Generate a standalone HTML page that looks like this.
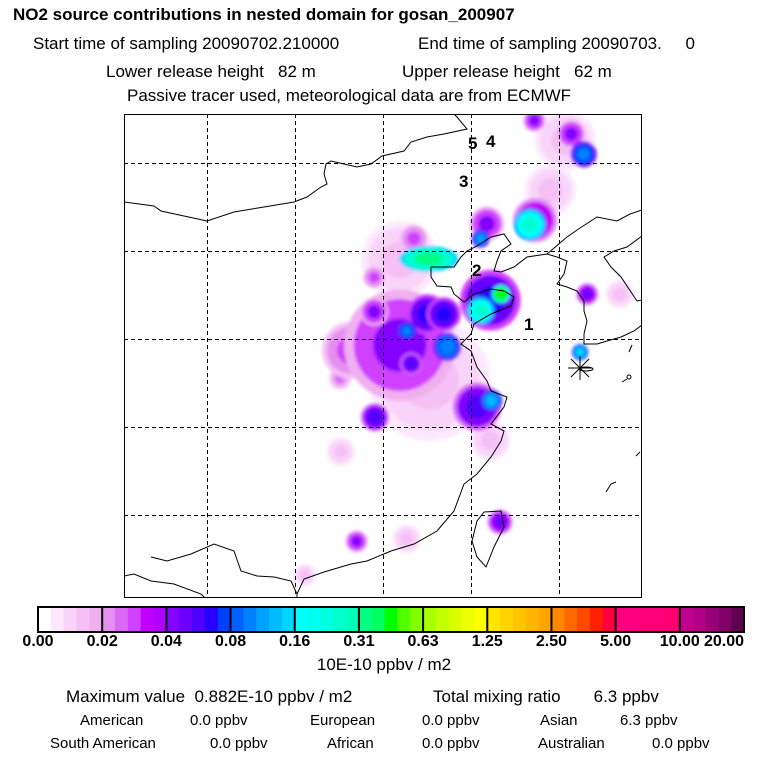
<!DOCTYPE html>
<html><head><meta charset="utf-8"><style>
body{margin:0;background:#fff;width:768px;height:768px;overflow:hidden;font-family:"Liberation Sans",sans-serif}
svg{position:absolute;left:0;top:0}
text{white-space:pre}
</style></head><body>
<svg width="768" height="768" xml:space="preserve">
<defs><filter id="bl" x="-50%" y="-50%" width="200%" height="200%"><feGaussianBlur stdDeviation="1.6"/></filter>
<clipPath id="mc"><rect x="124" y="114" width="518" height="484"/></clipPath></defs>
<g font-size="17" fill="#000">
<text x="13" y="20" font-weight="bold">NO2 source contributions in nested domain for gosan_200907</text>
<text x="33" y="49">Start time of sampling 20090702.210000</text>
<text x="418" y="49">End time of sampling 20090703.     0</text>
<text x="106" y="77">Lower release height   82 m</text>
<text x="402" y="77">Upper release height   62 m</text>
<text x="127" y="101">Passive tracer used, meteorological data are from ECMWF</text>
</g>
<g id="map" clip-path="url(#mc)">
<g id="blobs" filter="url(#bl)"></g>
<g id="grid"></g>
<g fill="none" stroke="#000" stroke-width="1">
<polyline points="297,598 297,594 304,579 324,572 351,564 367,561 391,551 414,544 437,531 454,511 464,484 477,474 491,457 501,441 504,431 491,424 504,407 507,397 491,391 487,381 477,367 471,351 461,344 471,334 474,324 491,314 511,306 514,297 504,291 491,289 474,294 464,302 454,294 451,287 437,286 431,277 431,267 454,267 461,257 467,251 477,246 491,237 504,234 511,244 501,251 497,261 494,271 501,272 514,267 527,257 547,254 557,257 567,261 564,274 557,284 567,287 577,291 584,301 584,311 587,321 584,334 584,344 597,344 607,341 621,337 634,331 642,325"/>
<polyline points="642,300 637,301 621,277 611,267 604,257 614,251 627,247 642,236"/>
<polyline points="547,254 567,237 580,228 597,217 617,221 630,214 642,210"/>
<polyline points="124,202 154,206 161,211 184,216 207,221 234,212 264,207 294,202 307,197 321,187 327,184 324,174 326,164 331,161 357,167 371,164 382,156 404,151 411,142 427,137 444,134 467,129 457,117 454,114"/>
<polyline points="124,576 134,574 151,581 174,584 201,594 205,598"/>
<polyline points="151,557 167,561 191,554 214,544 234,551 241,571 257,576 274,577 291,581 297,594"/>
<polyline points="484,512 501,511 504,527 494,547 486,567 477,557 472,541 477,521 484,512"/>
<ellipse cx="586" cy="369" rx="7" ry="2"/>
<polyline points="629,352 632,345"/><polyline points="622,382 627,379"/><ellipse cx="629" cy="377" rx="2" ry="2"/>
<polyline points="636,456 640,452"/><polyline points="606,492 611,484 616,482"/>
</g>
<g font-size="17" font-weight="bold">
<text x="468" y="149">5</text><text x="486" y="147">4</text><text x="459" y="187">3</text><text x="472" y="276">2</text><text x="524" y="330">1</text>
</g>
<g stroke="#000" stroke-width="1">
<line x1="568" y1="368" x2="592" y2="368"/><line x1="580" y1="356" x2="580" y2="380"/><line x1="571" y1="359" x2="589" y2="377"/><line x1="589" y1="359" x2="571" y2="377"/>
</g>
</g>
<rect x="124.5" y="114.5" width="517" height="483" fill="none" stroke="#000"/>
<g id="cbar"></g>
<text x="384" y="670" font-size="17" text-anchor="middle">10E-10 ppbv / m2</text>
<g font-size="17">
<text x="66" y="702">Maximum value  0.882E-10 ppbv / m2</text>
<text x="433" y="702">Total mixing ratio       6.3 ppbv</text>
</g>
<g font-size="15">
<text x="80" y="725">American</text><text x="190" y="725">0.0 ppbv</text>
<text x="310" y="725">European</text><text x="422" y="725">0.0 ppbv</text>
<text x="540" y="725">Asian</text><text x="620" y="725">6.3 ppbv</text>
<text x="50" y="748">South American</text><text x="210" y="748">0.0 ppbv</text>
<text x="327" y="748">African</text><text x="422" y="748">0.0 ppbv</text>
<text x="538" y="748">Australian</text><text x="652" y="748">0.0 ppbv</text>
</g>
</svg>
<script>
const tickLabels=["0.00","0.02","0.04","0.08","0.16","0.31","0.63","1.25","2.50","5.00","10.00","20.00"];
const levels=[0,0.02,0.04,0.08,0.16,0.31,0.63,1.25,2.5,5,10,20];
const shades=[
["#ffffff","#fde8fd","#f9d4f9","#f5c0f5","#f0b0f0"],
["#e490f0","#dc68f8","#d040ff","#c000ff","#b000ff"],
["#8400ff","#6c00ff","#5000ff","#2800ff","#0040ff"],
["#0060ff","#0080ff","#00a0ff","#00bcff","#00d4ff"],
["#00ffff","#00fff0","#00ffe0","#00ffcc","#00ffb8"],
["#00ff80","#00ff60","#00ff00","#50ff00","#80ff00"],
["#a8ff00","#c4ff00","#dcff00","#eeff00","#ffff00"],
["#ffe400","#ffd400","#ffc400","#ffb400","#ffa400"],
["#ff8800","#ff6800","#ff4800","#ff2000","#ff0040"],
["#ff0080","#ff0080","#ff0078","#ff0078","#ff0070"],
["#c00090","#b00088","#980078","#800068","#600050"]];
// blob data: grid-unit x, grid-unit y (gridlines at 1..5), value (1E-10 ppbv/m2), extent in grid units
const blobU=[3.53,3.19,4.90,5.07,4.22,2.52,3.27,5.69,2.11,3.19,2.63,2.51,2.90,2.90,3.35,3.50,3.69,3.27,3.73,3.32,4.22,4.11,4.34,3.52,4.18,4.11,4.73,4.67,4.72,5.14,5.28,4.07,4.23,2.91,5.32,5.24,4.33,2.70];
const blobV=[3.47,2.10,1.31,0.74,4.15,4.28,5.27,2.49,5.68,3.07,3.13,3.45,2.30,2.69,1.86,2.72,2.72,2.91,3.09,3.28,2.56,2.68,2.49,2.09,1.69,1.86,1.65,1.70,0.52,0.67,0.90,3.77,3.70,3.89,2.49,3.15,5.08,5.30];
const blobVal=[0.012,0.012,0.013,0.012,0.012,0.015,0.015,0.012,0.015,0.04,0.03,0.025,0.03,0.04,0.03,0.065,0.07,0.1,0.11,0.06,0.07,0.25,0.5,0.35,0.04,0.12,0.045,0.25,0.04,0.04,0.1,0.06,0.13,0.06,0.05,0.15,0.05,0.04];
const blobR=[0.6,0.38,0.25,0.3,0.2,0.14,0.14,0.14,0.11,0.55,0.28,0.11,0.11,0.14,0.14,0.20,0.17,0.10,0.14,0.11,0.3,0.14,0.09,0.34,0.17,0.09,0.22,0.16,0.11,0.14,0.13,0.24,0.11,0.14,0.11,0.08,0.125,0.11];
const NS="http://www.w3.org/2000/svg";
function xS(u){return 119+u*88}
function yS(v){return 75+v*88}
function color(v){
 for(let i=0;i<levels.length-1;i++){if(v<levels[i+1]){const f=(v-levels[i])/(levels[i+1]-levels[i]);return shades[i][Math.min(4,Math.floor(f*5))];}}
 return shades[10][4];}
const bg=document.getElementById('blobs');
const order=blobVal.map((v,i)=>i).sort((a,b)=>blobVal[a]-blobVal[b]);
order.forEach(i=>{
 const rings=[[1.15,blobVal[i]*0.45],[0.95,blobVal[i]*0.75],[0.55,blobVal[i]]];
 rings.forEach(r=>{
  const e=document.createElementNS(NS,'ellipse');
  
  
  e.setAttribute('cx',xS(blobU[i]));e.setAttribute('cy',yS(blobV[i]));
  const rr=blobR[i]*88*r[0];
  const el=(i==23);
  e.setAttribute('rx',rr*(el?0.85:1));e.setAttribute('ry',rr*(el?0.38:1));
  e.setAttribute('fill',color(r[1]));bg.appendChild(e);});
});
const gg=document.getElementById('grid');
for(let k=1;k<=5;k++){
 const l=document.createElementNS(NS,'line');
 
 
 l.setAttribute('x1',xS(k)+.5);l.setAttribute('x2',xS(k)+.5);l.setAttribute('y1',114);l.setAttribute('y2',598);
 l.setAttribute('stroke','#000');l.setAttribute('stroke-dasharray','4,3');gg.appendChild(l);
 const h=document.createElementNS(NS,'line');
 
 
 h.setAttribute('y1',yS(k)+.5);h.setAttribute('y2',yS(k)+.5);h.setAttribute('x1',124);h.setAttribute('x2',642);
 h.setAttribute('stroke','#000');h.setAttribute('stroke-dasharray','4,3');gg.appendChild(h);
}
const cb=document.getElementById('cbar');
const x0=38,w=706/11,y0=607,hgt=25;
shades.forEach((s,i)=>{s.forEach((c,j)=>{
 const r=document.createElementNS(NS,'rect');
 
 
 r.setAttribute('x',x0+i*w+j*w/5);r.setAttribute('y',y0);r.setAttribute('width',w/5+0.5);r.setAttribute('height',hgt);r.setAttribute('fill',c);cb.appendChild(r);});
 const b=document.createElementNS(NS,'line');
 
 
 b.setAttribute('x1',x0+i*w);b.setAttribute('x2',x0+i*w);b.setAttribute('y1',y0);b.setAttribute('y2',y0+hgt);b.setAttribute('stroke','#000');b.setAttribute('stroke-width','2');cb.appendChild(b);
});
const fr=document.createElementNS(NS,'rect');


fr.setAttribute('x',x0);fr.setAttribute('y',y0);fr.setAttribute('width',706);fr.setAttribute('height',hgt);fr.setAttribute('fill','none');fr.setAttribute('stroke','#000');fr.setAttribute('stroke-width','2');cb.appendChild(fr);
tickLabels.forEach((t,i)=>{
 const tx=document.createElementNS(NS,'text');
 
 
 let x=x0+i*w;if(i==0)x=Math.max(x,22);if(i==11)x=Math.min(x,724);
 tx.setAttribute('x',x);tx.setAttribute('y',646);tx.setAttribute('text-anchor','middle');
 tx.setAttribute('font-size','16');tx.setAttribute('font-weight','bold');tx.textContent=t;cb.appendChild(tx);
});
</script>
</body></html>
